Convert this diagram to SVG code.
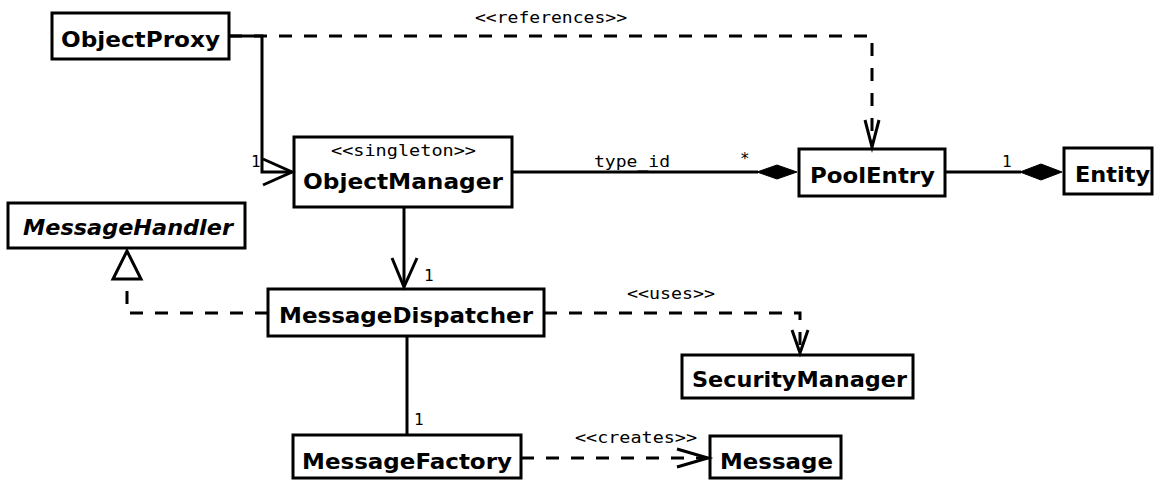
<svg xmlns="http://www.w3.org/2000/svg" width="1155" height="480" viewBox="0 0 1155 480">
  <style>
    .box { fill: #ffffff; stroke: #000000; stroke-width: 3; }
    .name { font-family: "DejaVu Sans", "Liberation Sans", sans-serif; font-weight: bold; font-size: 21px; fill: #000000; }
    .abstract { font-style: italic; }
    .label { font-family: "DejaVu Sans Mono", "Liberation Mono", monospace; font-size: 16px; fill: #000000; }
    .line { fill: none; stroke: #000000; stroke-width: 3; }
    .dash { fill: none; stroke: #000000; stroke-width: 3; stroke-dasharray: 13 12; }
    .head { fill: none; stroke: #000000; stroke-width: 3; stroke-linejoin: miter; }
    .diamond { fill: #000000; stroke: #000000; stroke-width: 1; }
    .triangle { fill: #ffffff; stroke: #000000; stroke-width: 3; }
  </style>

  <rect width="1155" height="480" fill="#ffffff"/>

  <!-- classes -->
  <g id="ObjectProxy">
    <rect class="box" x="52" y="13" width="177" height="46"/>
    <text class="name" x="61" y="47" textLength="159" lengthAdjust="spacingAndGlyphs">ObjectProxy</text>
  </g>
  <g id="ObjectManager">
    <rect class="box" x="294" y="137" width="218" height="70"/>
    <text class="label" x="331" y="156" textLength="145" lengthAdjust="spacingAndGlyphs">&lt;&lt;singleton&gt;&gt;</text>
    <text class="name" x="303" y="189" textLength="200" lengthAdjust="spacingAndGlyphs">ObjectManager</text>
  </g>
  <g id="PoolEntry">
    <rect class="box" x="799" y="149" width="146" height="47"/>
    <text class="name" x="810" y="183" textLength="125" lengthAdjust="spacingAndGlyphs">PoolEntry</text>
  </g>
  <g id="Entity">
    <rect class="box" x="1064" y="148" width="88" height="46"/>
    <text class="name" x="1075" y="182" textLength="75" lengthAdjust="spacingAndGlyphs">Entity</text>
  </g>
  <g id="MessageHandler">
    <rect class="box" x="8" y="203" width="237" height="45"/>
    <text class="name abstract" x="23" y="235" textLength="210" lengthAdjust="spacingAndGlyphs">MessageHandler</text>
  </g>
  <g id="MessageDispatcher">
    <rect class="box" x="268" y="289" width="276" height="47"/>
    <text class="name" x="279" y="323" textLength="254" lengthAdjust="spacingAndGlyphs">MessageDispatcher</text>
  </g>
  <g id="SecurityManager">
    <rect class="box" x="682" y="355" width="231" height="43"/>
    <text class="name" x="692" y="387" textLength="215" lengthAdjust="spacingAndGlyphs">SecurityManager</text>
  </g>
  <g id="MessageFactory">
    <rect class="box" x="293" y="435" width="228" height="43"/>
    <text class="name" x="302" y="469" textLength="210" lengthAdjust="spacingAndGlyphs">MessageFactory</text>
  </g>
  <g id="Message">
    <rect class="box" x="710" y="436" width="131" height="42"/>
    <text class="name" x="720" y="469" textLength="113" lengthAdjust="spacingAndGlyphs">Message</text>
  </g>

  <!-- relationships -->
  <g id="connectors">
    <!-- ObjectProxy -> ObjectManager (navigable association) -->
    <polyline class="line" points="229,36 262,36 262,172 292,172"/>
    <polyline class="head" points="263,159 292,172 263,185"/>
    <text class="label" x="251" y="167">1</text>

    <!-- ObjectProxy references PoolEntry -->
    <polyline class="dash" points="229,36 872,36 872,146"/>
    <polyline class="head" points="865,120 872,147 879,120"/>
    <text class="label" x="475" y="23" textLength="152" lengthAdjust="spacingAndGlyphs">&lt;&lt;references&gt;&gt;</text>

    <!-- ObjectManager owns PoolEntry (composition) -->
    <line class="line" x1="512" y1="172" x2="758" y2="172"/>
    <polygon class="diamond" points="757,172 777,165 797,172 777,179"/>
    <text class="label" x="594" y="167" textLength="76" lengthAdjust="spacingAndGlyphs">type_id</text>
    <text class="label" x="740" y="164">*</text>

    <!-- PoolEntry owns Entity (composition) -->
    <line class="line" x1="945" y1="172" x2="1021" y2="172"/>
    <polygon class="diamond" points="1020,172 1041,164 1062,172 1041,180"/>
    <text class="label" x="1002" y="167">1</text>

    <!-- ObjectManager -> MessageDispatcher -->
    <line class="line" x1="404" y1="207" x2="404" y2="287"/>
    <polyline class="head" points="392,258 404,287 417,258"/>
    <text class="label" x="424" y="281">1</text>

    <!-- MessageDispatcher realizes MessageHandler -->
    <polyline class="dash" points="268,313 127,313 127,279"/>
    <polygon class="triangle" points="127,251 113,279 141,279"/>

    <!-- MessageDispatcher uses SecurityManager -->
    <polyline class="dash" points="544,313 800,313 800,352"/>
    <polyline class="head" points="792,330 800,353 808,330"/>
    <text class="label" x="627" y="299" textLength="88" lengthAdjust="spacingAndGlyphs">&lt;&lt;uses&gt;&gt;</text>

    <!-- MessageDispatcher - MessageFactory -->
    <line class="line" x1="407" y1="336" x2="407" y2="435"/>
    <text class="label" x="414" y="425">1</text>

    <!-- MessageFactory creates Message -->
    <line class="dash" x1="521" y1="458" x2="707" y2="458"/>
    <polyline class="head" points="677,449 708,458 677,467"/>
    <text class="label" x="575" y="443" textLength="122" lengthAdjust="spacingAndGlyphs">&lt;&lt;creates&gt;&gt;</text>
  </g>
</svg>
